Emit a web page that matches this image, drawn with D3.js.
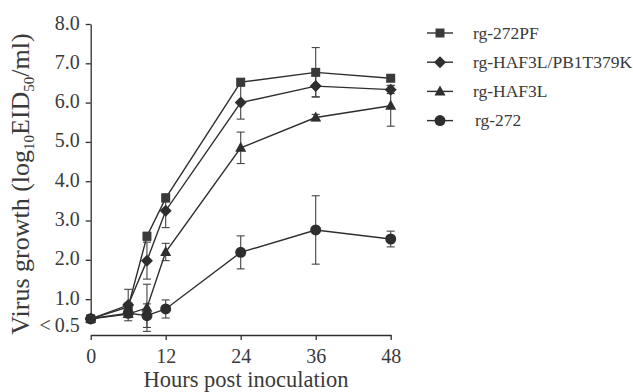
<!DOCTYPE html>
<html>
<head>
<meta charset="utf-8">
<script src="https://cdn.jsdelivr.net/npm/d3@7"></script>
<style>
  body { margin: 0; background: #fff; }
  svg { display: block; font-family: "Liberation Serif", "DejaVu Serif", serif; }
</style>
</head>
<body>
<div id="chart"></div>
<script>
const width = 633;
const height = 392;

// hours post inoculation
const hours = [0, 6, 9, 12, 24, 36, 48];

const seriesNames = ["rg-272PF", "rg-HAF3L/PB1T379K", "rg-HAF3L", "rg-272"];
const seriesShapes = ["square", "diamond", "triangle", "circle"];

// log10 EID50/ml
const pfValues = [0.5, 0.8, 2.6, 3.57, 6.52, 6.77, 6.62];
const pfErrors = [0, 0.08, 0.1, 0.08, 0.05, 0.63, 0.08];

const pb1Values = [0.5, 0.85, 1.98, 3.25, 6.0, 6.42, 6.33];
const pb1Errors = [0, 0.4, 0.47, 0.43, 0.42, 0.27, 0.1];

const hafValues = [0.5, 0.62, 0.78, 2.2, 4.85, 5.62, 5.92];
const hafErrors = [0, 0.06, 0.6, 0.22, 0.4, 0.08, 0.52];

const wtValues = [0.5, 0.64, 0.58, 0.75, 2.19, 2.76, 2.53];
const wtErrors = [0, 0.05, 0.3, 0.23, 0.42, 0.87, 0.2];

const xTicks = [0, 12, 24, 36, 48];
const yTicks = [8, 7, 6, 5, 4, 3, 2, 1, 0.5];

const allValues = [pfValues, pb1Values, hafValues, wtValues];
const allErrors = [pfErrors, pb1Errors, hafErrors, wtErrors];

const series = seriesNames.map((name, i) => ({
  name,
  shape: seriesShapes[i],
  points: hours.map((h, j) => ({ h, v: allValues[i][j], e: allErrors[i][j] })),
}));

const ink = "#2e2e2e";

const svg = d3.select("#chart")
  .append("svg")
  .attr("width", width)
  .attr("height", height);

const x = d3.scaleLinear().domain([0, 48]).range([90.7, 390.7]);
const y = d3.scaleLinear().domain([0.5, 8]).range([318.8, 24]);
const xAxisY = 335;

// y axis
const yAxisG = svg.append("g")
  .attr("transform", `translate(${x(0)},0)`)
  .call(d3.axisLeft(y)
    .tickValues(yTicks)
    .tickSize(5)
    .tickSizeOuter(0)
    .tickPadding(6)
    .tickFormat(d => d === 0.5 ? "<\u20090.5" : d.toFixed(1)));

// the detection-limit label sits a little below its tick
yAxisG.selectAll(".tick text")
  .attr("dy", d => d === 0.5 ? "0.62em" : "0.25em");

// x axis
svg.append("g")
  .attr("transform", `translate(0,${xAxisY})`)
  .call(d3.axisBottom(x)
    .tickValues(xTicks)
    .tickSize(5)
    .tickSizeOuter(0)
    .tickPadding(9)
    .tickFormat(d3.format("d")));

svg.selectAll(".domain, .tick line")
  .attr("stroke", ink)
  .attr("stroke-width", 1.3);
svg.selectAll(".tick text")
  .attr("fill", "#3a3a3a")
  .style("font-family", "Liberation Serif")
  .style("font-size", "20px");

// axis titles
svg.append("text")
  .attr("x", 246)
  .attr("y", 387)
  .attr("text-anchor", "middle")
  .attr("fill", "#3a3a3a")
  .style("font-size", "22.5px")
  .text("Hours post inoculation");

const yt = svg.append("text")
  .attr("transform", `translate(29,184) rotate(-90)`)
  .attr("text-anchor", "middle")
  .attr("fill", "#3a3a3a")
  .style("font-size", "26px");
yt.append("tspan").text("Virus growth (log");
yt.append("tspan").attr("dy", 5).style("font-size", "15px").text("10");
yt.append("tspan").attr("dy", -5).text("EID");
yt.append("tspan").attr("dy", 5).style("font-size", "15px").text("50");
yt.append("tspan").attr("dy", -5).text("/ml)");

// marker drawing
function drawMarker(g, shape, cx, cy) {
  if (shape === "square") {
    g.append("rect").attr("x", cx - 4.5).attr("y", cy - 4.5)
      .attr("width", 9).attr("height", 9).attr("fill", "#3a3a3a");
  } else if (shape === "diamond") {
    g.append("path")
      .attr("d", `M${cx},${cy - 6}L${cx + 6},${cy}L${cx},${cy + 6}L${cx - 6},${cy}Z`)
      .attr("fill", ink);
  } else if (shape === "triangle") {
    g.append("path")
      .attr("d", `M${cx},${cy - 6}L${cx + 5.5},${cy + 4}L${cx - 5.5},${cy + 4}Z`)
      .attr("fill", ink);
  } else {
    g.append("circle").attr("cx", cx).attr("cy", cy).attr("r", 5.5).attr("fill", ink);
  }
}

const line = d3.line().x(d => x(d.h)).y(d => y(d.v));

const plot = svg.append("g");

// error bars
series.forEach(s => {
  const eb = plot.append("g").attr("stroke", "#444").attr("stroke-width", 1.1);
  s.points.filter(p => p.e > 0).forEach(p => {
    const top = y(p.v + p.e), bot = y(p.v - p.e), cx = x(p.h);
    eb.append("line").attr("x1", cx).attr("x2", cx).attr("y1", top).attr("y2", bot);
    eb.append("line").attr("x1", cx - 4).attr("x2", cx + 4).attr("y1", top).attr("y2", top);
    eb.append("line").attr("x1", cx - 4).attr("x2", cx + 4).attr("y1", bot).attr("y2", bot);
  });
});

// lines
series.forEach(s => {
  plot.append("path")
    .datum(s.points)
    .attr("d", line)
    .attr("fill", "none")
    .attr("stroke", ink)
    .attr("stroke-width", 1.4);
});

// markers
series.forEach(s => {
  const g = plot.append("g");
  s.points.forEach(p => drawMarker(g, s.shape, x(p.h), y(p.v)));
});

// legend
const legend = svg.append("g");
series.forEach((s, i) => {
  const cy = 33 + i * 29.2;
  legend.append("line")
    .attr("x1", 427).attr("x2", 453)
    .attr("y1", cy).attr("y2", cy)
    .attr("stroke", ink).attr("stroke-width", 1.4);
  drawMarker(legend, s.shape, 440, cy);
  legend.append("text")
    .attr("x", i === 3 ? 475 : 473)
    .attr("y", cy + 5.5)
    .attr("fill", "#3a3a3a")
    .style("font-size", "17.5px")
    .text(s.name);
});
</script>
</body>
</html>
